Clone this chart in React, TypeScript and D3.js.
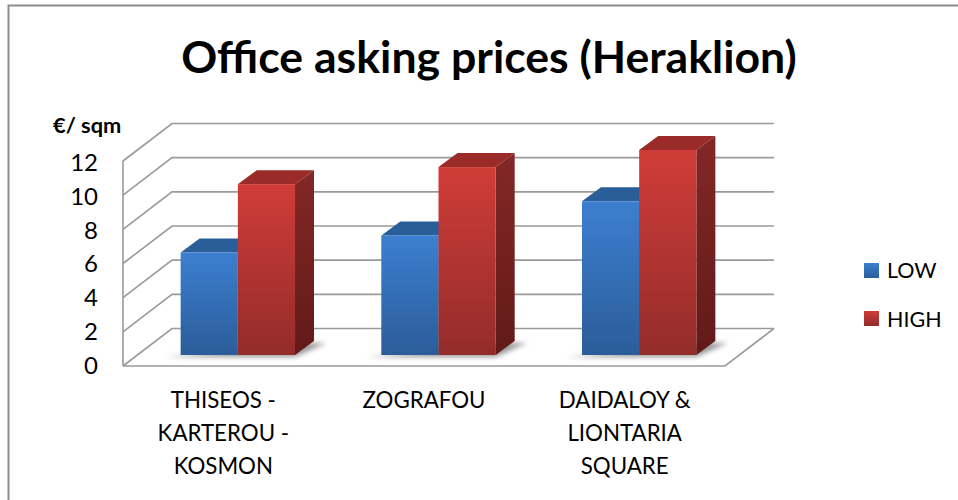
import React from "react";
import * as d3 from "d3";

const categories = ["THISEOS - KARTEROU - KOSMON", "ZOGRAFOU", "DAIDALOY & LIONTARIA SQUARE"];
const categoryLines = [["THISEOS -", "KARTEROU -", "KOSMON"], ["ZOGRAFOU"], ["DAIDALOY &", "LIONTARIA", "SQUARE"]];
const seriesNames = ["LOW", "HIGH"];
const lowValues = [6, 7, 9];
const highValues = [10, 11, 12];
const yTicks = [0, 2, 4, 6, 8, 10, 12];

const FONT = "Lato, 'Open Sans', sans-serif";
const left = 123, right = 725, floor = 366, top = 161;
const depthX = 49, depthY = -37.5;
const barDX = 14.5, barDY = -11;
const barDepthX = 19, barDepthY = -14;

const x = d3.scaleBand<string>().domain(categories).range([left, right]).paddingInner(0.43).paddingOuter(0.215);
const inner = d3.scaleBand<string>().domain(seriesNames).range([0, x.bandwidth()]);
const y = d3.scaleLinear().domain([0, 12]).range([floor, top]);
const labelY = d3.scaleLinear().domain([0, 12]).range([373.5, 171]);
const path = d3.path;

const poly = (pts: number[][]) => {
  const p = path();
  pts.forEach((q, i) => (i ? p.lineTo(q[0], q[1]) : p.moveTo(q[0], q[1])));
  p.closePath();
  return p.toString();
};
const line = (pts: number[][]) => {
  const p = path();
  pts.forEach((q, i) => (i ? p.lineTo(q[0], q[1]) : p.moveTo(q[0], q[1])));
  return p.toString();
};

const palettes: Record<string, any> = {
  LOW: { grad: "gLow", top: "#2a5e99" },
  HIGH: { grad: "gHigh", top: "#9a2b29", side: "gSide" },
};

export default function App() {
  const gridColor = "#9a9a9a";
  const series = [
    { name: "LOW", values: lowValues },
    { name: "HIGH", values: highValues },
  ];
  return (
    <svg width={958} height={500} style={{ position: "absolute", left: 0, top: 0, background: "#fff" }}>
      <defs>
        <linearGradient id="gLow" x1="0" y1="0" x2="0" y2="1">
          <stop offset="0" stopColor="#3c7fd0" />
          <stop offset="1" stopColor="#2b5d99" />
        </linearGradient>
        <linearGradient id="gHigh" x1="0" y1="0" x2="0" y2="1">
          <stop offset="0" stopColor="#d03c38" />
          <stop offset="1" stopColor="#932c2a" />
        </linearGradient>
        <linearGradient id="gSide" x1="0" y1="0" x2="0" y2="1">
          <stop offset="0" stopColor="#832826" />
          <stop offset="1" stopColor="#611a18" />
        </linearGradient>
        <filter id="blur" x="-30%" y="-100%" width="160%" height="300%">
          <feGaussianBlur stdDeviation="2.5" />
        </filter>
        <filter id="soft" x="-5%" y="-5%" width="110%" height="110%">
          <feGaussianBlur stdDeviation="0.5" />
        </filter>
      </defs>

      <path d={line([[958, 5.5], [8.5, 5.5], [8.5, 500]])} fill="none" stroke="#8c8c8c" strokeWidth={2} />

      <text x={489} y={72.5} textAnchor="middle" fontFamily={FONT} fontWeight={700} fontSize={44.6} fill="#000">
        Office asking prices (Heraklion)
      </text>
      <text x={53} y={133} fontFamily={FONT} fontWeight={700} fontSize={21.8} fill="#000">€/ sqm</text>

      {/* walls and floor */}
      <g fill="none" stroke={gridColor} strokeWidth={1.6} filter="url(#soft)">
        {yTicks.map((t) => (
          <path key={t} d={line([[left, y(t)], [left + depthX, y(t) + depthY], [left + depthX + right - left, y(t) + depthY]])} />
        ))}
        <path d={line([[left, y(0)], [left, y(12)]])} />
        <path d={line([[left, y(0)], [right, y(0)], [right + depthX, y(0) + depthY]])} />
      </g>

      {yTicks.map((t) => (
        <text key={t} x={98} y={labelY(t)} textAnchor="end" fontFamily={FONT} fontSize={24} fill="#000">{t}</text>
      ))}

      {categories.map((c, i) => {
        const bx = x(c)! + barDX;
        const w = inner.bandwidth();
        const base = y(0) + barDY;
        return (
          <g key={c}>
            <path
              d={poly([[bx - 14, base + 2], [bx + 2 * w, base + 2], [bx + 2 * w + barDepthX + 12, base - 12], [bx + 2 * w + 10, base - 12]])}
              fill="#555"
              opacity={0.6}
              filter="url(#blur)"
            />
            {series.map((s) => {
              const sx = bx + inner(s.name)!;
              const ty = y(s.values[i]) + barDY;
              const p = palettes[s.name];
              return (
                <g key={s.name}>
                  <path d={poly([[sx, ty], [sx + barDepthX, ty + barDepthY], [sx + w + barDepthX, ty + barDepthY], [sx + w, ty]])} fill={p.top} />
                  <path d={poly([[sx + w, ty], [sx + w + barDepthX, ty + barDepthY], [sx + w + barDepthX, base + barDepthY], [sx + w, base]])} fill={s.name === "HIGH" ? "url(#gSide)" : "#24507f"} />
                  <rect x={sx} y={ty} width={w} height={base - ty} fill={`url(#${p.grad})`} />
                </g>
              );
            })}
            {categoryLines[i].map((l, k) => (
              <text key={l} x={x(c)! + x.bandwidth() / 2} y={408 + k * 33} textAnchor="middle" fontFamily={FONT} fontSize={22.3} fill="#000">{l}</text>
            ))}
          </g>
        );
      })}

      {seriesNames.map((s, i) => (
        <g key={s}>
          <rect x={864} y={263 + i * 48} width={15} height={15} fill={`url(#${palettes[s].grad})`} />
          <text x={887} y={278 + i * 49} fontFamily={FONT} fontSize={21.5} fill="#000">{s}</text>
        </g>
      ))}
    </svg>
  );
}
